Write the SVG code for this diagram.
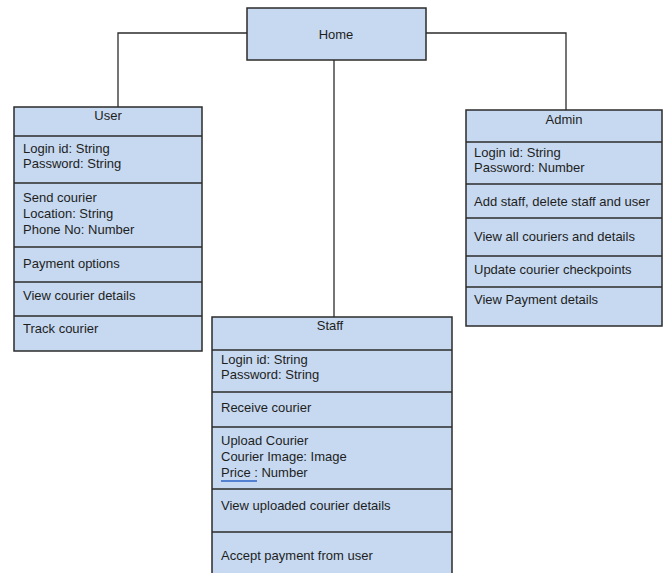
<svg xmlns="http://www.w3.org/2000/svg" width="664" height="573" viewBox="0 0 664 573">
<style>
.box{fill:#c6d9f0;stroke:#2b2b2b;stroke-width:1.5}
.div{stroke:#2b2b2b;stroke-width:1.3}
.conn{fill:none;stroke:#2b2b2b;stroke-width:1.3}
text{font-family:"Liberation Sans",Arial,sans-serif;font-size:13px;fill:#1e1e1e}
.c{text-anchor:middle}
</style>
<rect width="664" height="573" fill="#ffffff"/>
<g id="connectors">
<polyline class="conn" points="247,33 118,33 118,107"/>
<polyline class="conn" points="426,33 566,33 566,110"/>
<line class="conn" x1="334" y1="60" x2="334" y2="317"/>
</g>
<g id="home">
<rect class="box" x="247" y="8" width="179" height="52"/>
<text class="c" x="336" y="39">Home</text>
</g>
<g id="user">
<rect class="box" x="14" y="107" width="188" height="244"/>
<line class="div" x1="14" y1="136" x2="202" y2="136"/>
<line class="div" x1="14" y1="183" x2="202" y2="183"/>
<line class="div" x1="14" y1="247" x2="202" y2="247"/>
<line class="div" x1="14" y1="282" x2="202" y2="282"/>
<line class="div" x1="14" y1="316" x2="202" y2="316"/>
<text class="c" x="108" y="120">User</text>
<text x="23" y="153">Login id: String</text>
<text x="23" y="168">Password: String</text>
<text x="23" y="202">Send courier</text>
<text x="23" y="218">Location: String</text>
<text x="23" y="234">Phone No: Number</text>
<text x="23" y="268">Payment options</text>
<text x="23" y="300">View courier details</text>
<text x="23" y="333">Track courier</text>
</g>
<g id="admin">
<rect class="box" x="466" y="110" width="196" height="216"/>
<line class="div" x1="466" y1="142" x2="662" y2="142"/>
<line class="div" x1="466" y1="184" x2="662" y2="184"/>
<line class="div" x1="466" y1="218" x2="662" y2="218"/>
<line class="div" x1="466" y1="256" x2="662" y2="256"/>
<line class="div" x1="466" y1="287" x2="662" y2="287"/>
<text class="c" x="564" y="124">Admin</text>
<text x="474" y="157">Login id: String</text>
<text x="474" y="172">Password: Number</text>
<text x="474" y="206">Add staff, delete staff and user</text>
<text x="474" y="241">View all couriers and details</text>
<text x="474" y="274">Update courier checkpoints</text>
<text x="474" y="304">View Payment details</text>
</g>
<g id="staff">
<rect class="box" x="212" y="317" width="240" height="262"/>
<line class="div" x1="212" y1="350" x2="452" y2="350"/>
<line class="div" x1="212" y1="392" x2="452" y2="392"/>
<line class="div" x1="212" y1="427" x2="452" y2="427"/>
<line class="div" x1="212" y1="489" x2="452" y2="489"/>
<line class="div" x1="212" y1="532" x2="452" y2="532"/>
<text class="c" x="330" y="330">Staff</text>
<text x="221" y="364">Login id: String</text>
<text x="221" y="379">Password: String</text>
<text x="221" y="412">Receive courier</text>
<text x="221" y="445">Upload Courier</text>
<text x="221" y="461">Courier Image: Image</text>
<text x="221" y="477">Price : Number</text>
<line x1="221" y1="481" x2="257" y2="481" stroke="#2e62c9" stroke-width="1.3"/>
<text x="221" y="510">View uploaded courier details</text>
<text x="221" y="560">Accept payment from user</text>
</g>
</svg>
